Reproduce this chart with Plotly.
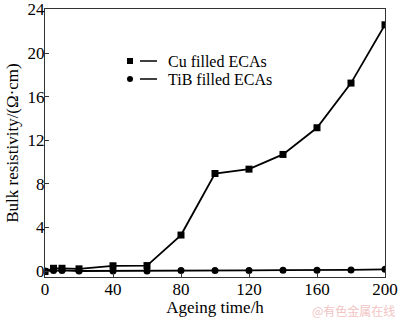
import plotly.graph_objects as go

time_cu = [0, 5, 10, 20, 40, 60, 80, 100, 120, 140, 160, 180, 200]
cu_res = [-0.05, 0.25, 0.25, 0.2, 0.48, 0.5, 3.3, 8.95, 9.35, 10.7, 13.15, 17.25, 22.6]
time_tib = [0, 5, 10, 20, 40, 60, 80, 100, 120, 140, 160, 180, 200]
tib_res = [0.0, 0.05, 0.05, 0.0, 0.0, 0.0, 0.05, 0.05, 0.05, 0.08, 0.08, 0.1, 0.15]
x_ticks = [0, 40, 80, 120, 160, 200]
y_ticks = [0, 4, 8, 12, 16, 20, 24]

FONT = "Liberation Serif"
T, B, L, R = 9, 45, 45, 15
PH = 322 - T - B
PW = 400 - L - R

fig = go.Figure()
fig.add_trace(go.Scatter(x=time_tib, y=tib_res, mode="lines+markers", name="TiB filled ECAs",
                         line=dict(color="black", width=1.8),
                         marker=dict(symbol="circle", size=7, color="black")))
fig.add_trace(go.Scatter(x=time_cu, y=cu_res, mode="lines+markers", name="Cu filled ECAs",
                         line=dict(color="black", width=1.8),
                         marker=dict(symbol="square", size=7, color="black")))

axis_common = dict(showline=True, linecolor="#333", linewidth=1.2, mirror=True,
                   ticks="inside", ticklen=4, tickcolor="#333", showgrid=False, zeroline=False,
                   ticklabeloverflow="allow", automargin=False,
                   tickfont=dict(family=FONT, size=17, color="black"))

fig.update_xaxes(range=[0, 200], tickvals=x_ticks, **axis_common, ticklabelstandoff=-4,
                 title=dict(text="Ageing time/h", font=dict(family=FONT, size=17, color="black"), standoff=0))
fig.update_yaxes(range=[-0.55, 24.05], tickvals=y_ticks, **axis_common, ticklabelstandoff=-4,
                 title=dict(text="Bulk resistivity/(Ω·cm)", font=dict(family=FONT, size=17, color="black"), standoff=4))

# legend drawn manually (marker, dash, text)
shapes = []
annotations = []
for i, (label, sym) in enumerate([("Cu filled ECAs", "rect"), ("TiB filled ECAs", "circle")]):
    yc = 61 + i * 18
    ypap = 1 - (yc - T) / PH
    xm = (130 - L) / PW
    dx = 3 / PW
    dy = 3 / PH
    shapes.append(dict(type=sym, xref="paper", yref="paper", x0=xm - dx, x1=xm + dx,
                       y0=ypap - dy, y1=ypap + dy, fillcolor="black", line=dict(color="black", width=0)))
    shapes.append(dict(type="line", xref="paper", yref="paper", x0=(140 - L) / PW, x1=(157 - L) / PW,
                       y0=ypap, y1=ypap, line=dict(color="black", width=1.5)))
    annotations.append(dict(text=label, xref="paper", yref="paper", x=(166 - L) / PW, y=ypap,
                            xanchor="left", yanchor="middle", showarrow=False,
                            font=dict(family=FONT, size=16, color="black")))

annotations.append(dict(text="@有色金属在线", xref="paper", yref="paper", x=(397 - L) / PW, y=-(310 - (322 - B)) / PH,
                        xanchor="right", yanchor="middle", showarrow=False,
                        font=dict(family="Noto Sans CJK SC", size=12, color="#f2c4c4")))

fig.update_layout(width=400, height=322, margin=dict(l=L, r=R, t=T, b=B),
                  plot_bgcolor="white", paper_bgcolor="white", showlegend=False,
                  shapes=shapes, annotations=annotations)

fig.write_html("out.html")
